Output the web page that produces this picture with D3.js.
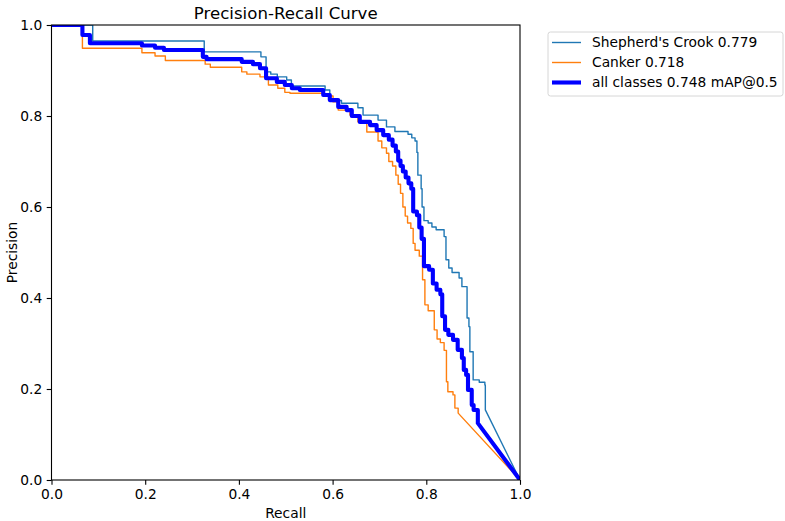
<!DOCTYPE html>
<html>
<head>
<meta charset="utf-8">
<script src="https://cdn.jsdelivr.net/npm/d3@7"></script>
<style>
  body { margin: 0; background: #fff; }
  text { font-family: "DejaVu Sans", sans-serif; fill: #000; }
</style>
</head>
<body>
<script>
// PR curves, [recall, precision] step points; each curve ends with a straight line to (1, 0)
var crookPts = [[0,1],[0.088,0.965],[0.326,0.941],[0.447,0.930],[0.458,0.897],[0.468,0.892],[0.482,0.886],
  [0.502,0.879],[0.512,0.866],[0.584,0.857],[0.594,0.834],[0.619,0.828],[0.654,0.818],[0.665,0.802],
  [0.697,0.791],[0.715,0.776],[0.733,0.766],[0.761,0.760],[0.769,0.752],[0.776,0.745],[0.780,0.720],
  [0.782,0.670],[0.789,0.640],[0.791,0.600],[0.795,0.570],[0.804,0.565],[0.812,0.556],[0.821,0.550],
  [0.838,0.535],[0.842,0.484],[0.848,0.466],[0.855,0.456],[0.870,0.444],[0.876,0.425],[0.887,0.356],
  [0.891,0.337],[0.893,0.282],[0.900,0.220],[0.913,0.215],[0.925,0.209],[0.926,0.154]];

var cankerPts = [[0,1],[0.066,0.949],[0.193,0.939],[0.221,0.932],[0.243,0.922],[0.328,0.914],[0.339,0.907],
  [0.406,0.897],[0.417,0.892],[0.445,0.886],[0.463,0.868],[0.483,0.861],[0.498,0.852],[0.509,0.850],
  [0.580,0.844],[0.601,0.831],[0.612,0.813],[0.637,0.802],[0.654,0.787],[0.673,0.765],[0.697,0.745],
  [0.705,0.730],[0.715,0.718],[0.720,0.700],[0.728,0.690],[0.735,0.670],[0.740,0.650],[0.745,0.630],
  [0.750,0.600],[0.755,0.580],[0.760,0.565],[0.767,0.553],[0.772,0.520],[0.776,0.505],[0.785,0.492],
  [0.792,0.440],[0.797,0.385],[0.804,0.372],[0.817,0.330],[0.823,0.310],[0.830,0.302],[0.838,0.285],
  [0.843,0.216],[0.846,0.194],[0.857,0.187],[0.861,0.158],[0.868,0.147]];

var allPts = [[0,1],[0.066,0.978],[0.082,0.960],[0.193,0.955],[0.221,0.950],[0.240,0.945],[0.323,0.930],
  [0.331,0.925],[0.406,0.919],[0.430,0.914],[0.445,0.905],[0.458,0.883],[0.481,0.875],[0.498,0.868],
  [0.513,0.861],[0.530,0.857],[0.580,0.846],[0.594,0.835],[0.612,0.820],[0.630,0.813],[0.641,0.800],
  [0.658,0.787],[0.680,0.780],[0.694,0.769],[0.708,0.758],[0.720,0.748],[0.728,0.735],[0.735,0.722],
  [0.740,0.702],[0.745,0.690],[0.750,0.678],[0.756,0.665],[0.762,0.652],[0.768,0.640],[0.772,0.590],
  [0.780,0.582],[0.785,0.555],[0.790,0.530],[0.795,0.470],[0.806,0.462],[0.814,0.432],[0.822,0.418],
  [0.830,0.408],[0.834,0.360],[0.840,0.330],[0.847,0.319],[0.857,0.308],[0.867,0.286],[0.876,0.268],
  [0.880,0.242],[0.885,0.231],[0.889,0.198],[0.897,0.165],[0.901,0.154],[0.910,0.125]];

var seriesNames = ["Shepherd's Crook 0.779", "Canker 0.718", "all classes 0.748 mAP@0.5"];
var seriesColors = ["#1f77b4", "#ff7f0e", "#0000ff"];
var seriesWidths = [1.4, 1.4, 4.1];
var ticks = [0, 0.2, 0.4, 0.6, 0.8, 1.0];

var W = 785, H = 521;
// plot box (note: "top" is reserved on window, so use these names)
var pLeft = 51.5, pRight = 520, pTop = 25, pBottom = 480;
var fs = 13.8; // 10pt at this figure scale

var svg = d3.select("body").append("svg")
    .attr("width", W)
    .attr("height", H);

var x = d3.scaleLinear().domain([0, 1]).range([pLeft, pRight]);
var y = d3.scaleLinear().domain([0, 1]).range([pBottom, pTop]);

svg.append("clipPath").attr("id", "clip")
  .append("rect")
    .attr("x", pLeft).attr("y", pTop)
    .attr("width", pRight - pLeft).attr("height", pBottom - pTop);

// turn step points into a polyline, then finish with a straight line to (1,0)
function expand(pts) {
  var out = [];
  for (var i = 0; i < pts.length - 1; i++) {
    out.push(pts[i]);
    out.push([pts[i + 1][0], pts[i][1]]);
  }
  out.push(pts[pts.length - 1]);
  out.push([1, 0]);
  return out;
}

var line = d3.line()
    .x(function(d) { return x(d[0]); })
    .y(function(d) { return y(d[1]); });

var curves = [crookPts, cankerPts, allPts];
var plot = svg.append("g").attr("clip-path", "url(#clip)");
curves.forEach(function(c, i) {
  plot.append("path")
    .attr("d", line(expand(c)))
    .attr("fill", "none")
    .attr("stroke", seriesColors[i])
    .attr("stroke-width", seriesWidths[i])
    .attr("stroke-linejoin", "round");
});

// axes
var xAxis = d3.axisBottom(x).tickValues(ticks).tickFormat(d3.format(".1f")).tickSize(4.8).tickPadding(4.5);
var yAxis = d3.axisLeft(y).tickValues(ticks).tickFormat(d3.format(".1f")).tickSize(4.8).tickPadding(4.5);

var gx = svg.append("g").attr("transform", "translate(0," + pBottom + ")").call(xAxis);
var gy = svg.append("g").attr("transform", "translate(" + pLeft + ",0)").call(yAxis);
[gx, gy].forEach(function(g) {
  g.select(".domain").remove();
  g.selectAll("text").style("font-family", "DejaVu Sans").style("font-size", fs + "px").attr("fill", "#000");
  g.selectAll("line").attr("stroke", "#000").attr("stroke-width", 1.1);
});

// frame
svg.append("rect")
    .attr("x", pLeft).attr("y", pTop)
    .attr("width", pRight - pLeft).attr("height", pBottom - pTop)
    .attr("fill", "none").attr("stroke", "#000").attr("stroke-width", 1.1);

// labels
svg.append("text")
    .attr("x", (pLeft + pRight) / 2).attr("y", 18.5)
    .attr("text-anchor", "middle")
    .style("font-size", "16.6px")
    .text("Precision-Recall Curve");

svg.append("text")
    .attr("x", (pLeft + pRight) / 2).attr("y", 518)
    .attr("text-anchor", "middle")
    .style("font-size", fs + "px")
    .text("Recall");

svg.append("text")
    .attr("transform", "translate(17," + (pTop + pBottom) / 2 + ") rotate(-90)")
    .attr("text-anchor", "middle")
    .style("font-size", fs + "px")
    .text("Precision");

// legend
var lg = svg.append("g");
lg.append("rect")
    .attr("x", 548).attr("y", 32)
    .attr("width", 235).attr("height", 64)
    .attr("rx", 2.5)
    .attr("fill", "#fff")
    .attr("stroke", "#d6d6d6")
    .attr("stroke-width", 1);

seriesNames.forEach(function(name, i) {
  var yy = 42.5 + i * 20;
  lg.append("line")
    .attr("x1", 552).attr("x2", 581)
    .attr("y1", yy).attr("y2", yy)
    .attr("stroke", seriesColors[i])
    .attr("stroke-width", seriesWidths[i]);
  lg.append("text")
    .attr("x", 592).attr("y", yy)
    .attr("dy", "0.35em")
    .style("font-size", fs + "px")
    .text(name);
});
</script>
</body>
</html>
